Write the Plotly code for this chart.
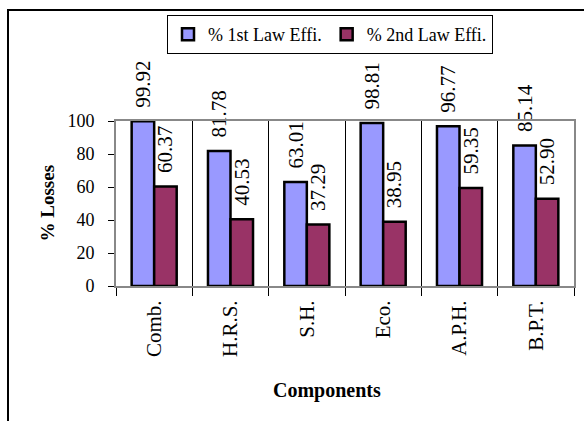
import plotly.graph_objects as go

# Component-wise efficiencies (percent)
components = ["Comb.", "H.R.S.", "S.H.", "Eco.", "A.P.H.", "B.P.T."]
first_law = [99.92, 81.78, 63.01, 98.81, 96.77, 85.14]
second_law = [60.37, 40.53, 37.29, 38.95, 59.35, 52.90]
y_ticks = [0, 20, 40, 60, 80, 100]

W, H = 584, 421
L, R, T, B = 116, 10, 121, 135
pw, ph = W - L - R, H - T - B

SERIF = "Liberation Serif"


def px_x(x):
    return (x - L) / pw


def px_y(y):
    return (H - B - y) / ph


def bar_trace(name, values, color):
    return go.Bar(
        name=name,
        x=components,
        y=values,
        marker=dict(color=color, line=dict(color="black", width=2.5)),
        text=[f"{v:.2f}" for v in values],
        texttemplate="\u00a0\u00a0%{text}",
        textposition="outside",
        textangle=-90,
        constraintext="none",
        cliponaxis=False,
        textfont=dict(family=SERIF, size=21, color="black"),
    )


fig = go.Figure([
    bar_trace("% 1st Law Effi.", first_law, "#9999FF"),
    bar_trace("% 2nd Law Effi.", second_law, "#993366"),
])

fig.update_layout(
    width=W,
    height=H,
    margin=dict(l=L, r=R, t=T, b=B, autoexpand=False),
    paper_bgcolor="white",
    plot_bgcolor="white",
    barmode="group",
    bargap=0.41,
    bargroupgap=0.0,
    font=dict(family=SERIF, color="black"),
    showlegend=True,
    legend=dict(
        orientation="h",
        x=px_x(330),
        y=px_y(15),
        xanchor="center",
        yanchor="top",
        bordercolor="black",
        borderwidth=1,
        bgcolor="white",
        font=dict(family=SERIF, size=18, color="black"),
        itemwidth=30,
    ),
    xaxis=dict(
        type="category",
        tickson="boundaries",
        ticks="outside",
        ticklen=8,
        tickcolor="black",
        tickwidth=1,
        tickangle=-90,
        tickfont=dict(family=SERIF, size=21, color="black"),
        ticklabelstandoff=4,
        showgrid=True,
        gridcolor="black",
        gridwidth=1,
        showline=True,
        linecolor="#888888",
        linewidth=2,
        mirror=True,
    ),
    yaxis=dict(
        range=[0, 100],
        tickvals=y_ticks,
        ticks="outside",
        ticklen=6,
        tickcolor="black",
        tickwidth=1,
        tickfont=dict(family=SERIF, size=18, color="black"),
        ticklabelstandoff=10,
        showgrid=False,
        zeroline=False,
        showline=True,
        linecolor="#888888",
        linewidth=2,
        mirror=True,
    ),
    annotations=[
        dict(
            text="<b>% Losses</b>",
            xref="paper", yref="paper",
            x=px_x(47), y=0.5,
            xanchor="center", yanchor="middle",
            textangle=-90,
            showarrow=False,
            font=dict(family=SERIF, size=19, color="black"),
        ),
        dict(
            text="<b>Components</b>",
            xref="paper", yref="paper",
            x=px_x(327), y=px_y(390),
            xanchor="center", yanchor="middle",
            showarrow=False,
            font=dict(family=SERIF, size=20, color="black"),
        ),
    ],
    shapes=[
        # outer chart frame
        dict(
            type="rect",
            xref="paper", yref="paper",
            x0=px_x(8), y0=px_y(H + 10),
            x1=px_x(W + 10), y1=px_y(10),
            line=dict(color="black", width=2),
            layer="below",
        ),
    ],
)

fig.write_html("out.html")
